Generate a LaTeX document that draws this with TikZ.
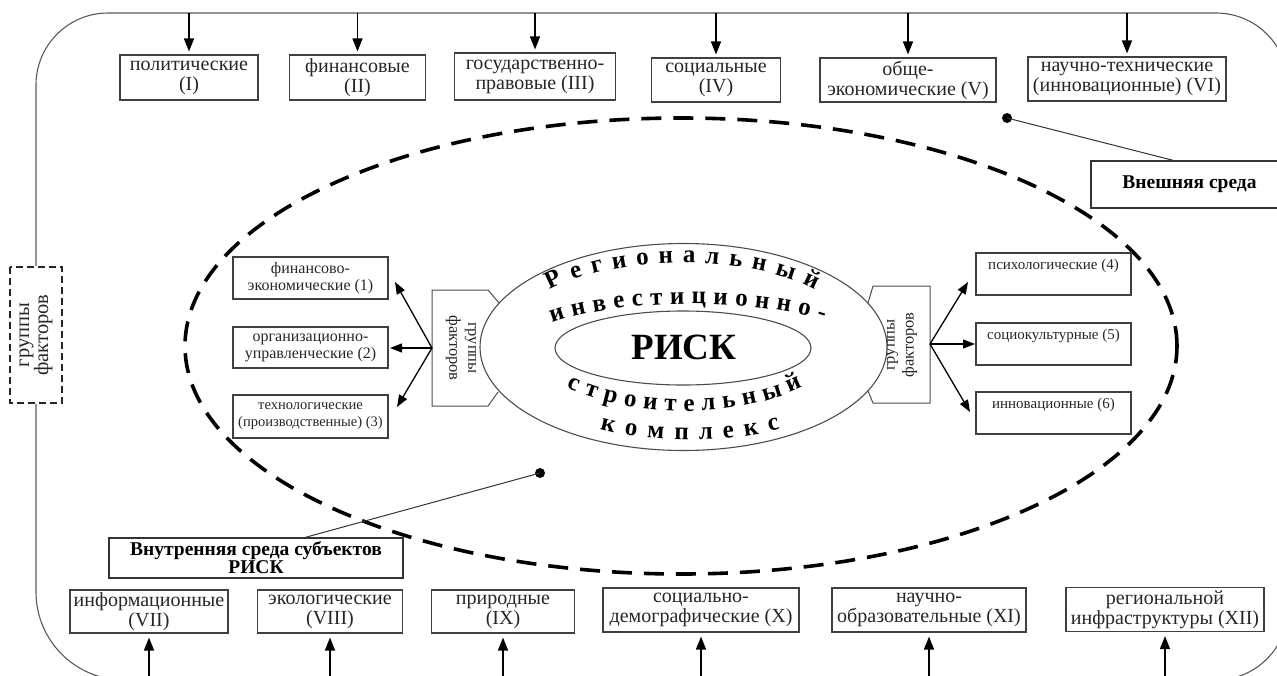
\documentclass[tikz,border=0pt]{standalone}
\usepackage{fontspec}
\setmainfont{Liberation Serif}
\usetikzlibrary{arrows.meta,decorations.text,calc}
\newcommand\fsz[2]{\fontsize{#1}{#2}\selectfont}
\newcommand\curvefont{\bfseries\fontsize{25}{25}\selectfont}
\begin{document}
\begin{tikzpicture}[x=1pt,y=-1pt,
  fbox/.style={draw=black!75, line width=1.1pt, inner sep=1pt, align=center, text=black!85, font=\fsz{20}{20}},
  sbox/.style={draw=black!75, line width=1.1pt, inner sep=1pt, align=center, text=black!85, font=\fsz{16}{17}},
  rbox/.style={draw=black!75, line width=1.1pt, inner sep=1pt, minimum width=155, minimum height=42},
  rtxt/.style={font=\fsz{15}{16}, text=black!85, inner sep=0pt},
  lbl/.style={draw=black!80, line width=1.1pt, inner sep=1pt, align=center, font=\bfseries\fsz{19.5}{18}},
  arr/.style={line width=1.4pt, -{Triangle[length=13pt,width=10pt]}},
  garr/.style={line width=1.3pt, -{Triangle[length=12pt,width=9pt]}},
  thinl/.style={line width=1pt, draw=black!80},
  grp/.style={draw=black!70, line width=1pt},
  gtxt/.style={font=\fsz{16.5}{19}, align=center, text=black!85, inner sep=0pt},
  dotn/.style={circle, fill=black, inner sep=0pt, minimum size=10},
]
\useasboundingbox (0,0) rectangle (1277,675);
\clip (0,0) rectangle (1277,675);

% left dashed box and outer frame
\node[draw=black!85, line width=1.8pt, dash pattern=on 7pt off 4pt, rotate=90,
      minimum width=136, minimum height=52, align=center, inner sep=0pt,
      font=\fsz{20.5}{19}, text=black!85] (gf) at (36,335) {группы\\факторов};
\draw[draw=black!65, line width=1.1pt] (gf.east) [rounded corners=72] -- (36,13) -- (1288,13) -- (1288,680) [rounded corners=88] -- (36,680) -- (gf.west);

\coordinate (ft) at (0,13);
\coordinate (fb) at (0,676);

% top boxes
\node[fbox, minimum width=138, minimum height=45] (b1) at (189,77.5) {политические\\(I)};
\node[fbox, minimum width=136, minimum height=45] (b2) at (357.5,77.5) {финансовые\\(II)};
\node[fbox, minimum width=161, minimum height=47] (b3) at (535,76.5) {государственно-\\правовые (III)};
\node[fbox, minimum width=129, minimum height=44] (b4) at (716,80) {социальные\\(IV)};
\node[fbox, minimum width=176, minimum height=44] (b5) at (908,80) {обще-\\экономические (V)};
\node[fbox, minimum width=198, minimum height=44] (b6) at (1127,79) {научно-технические\\(инновационные) (VI)};
\foreach \n in {b1,b2,b3,b4,b5,b6}{
  \draw[arr, shorten >=3pt] (\n.north |- ft) -- (\n.north);
}

% bottom boxes
\node[fbox, minimum width=158, minimum height=43] (b7) at (149,611.5) {информационные\\(VII)};
\node[fbox, minimum width=145, minimum height=43] (b8) at (330,611.5) {экологические\\(VIII)};
\node[fbox, minimum width=143, minimum height=43] (b9) at (503,611.5) {природные\\(IX)};
\node[fbox, minimum width=196, minimum height=44] (b10) at (701,610) {социально-\\демографические (X)};
\node[fbox, minimum width=194, minimum height=44] (b11) at (929,610) {научно-\\образовательные (XI)};
\node[fbox, minimum width=198, minimum height=44] (b12) at (1165,609.5) {региональной\\инфраструктуры (XII)};
\foreach \n in {b7,b8,b9,b10,b11,b12}{
  \draw[arr, shorten >=4pt] (\n.south |- fb) -- (\n.south);
}

% big dashed ellipse
\draw[line width=3.6pt, dash pattern=on 20pt off 12pt] (681,346) ellipse [x radius=496pt, y radius=228pt];

% central ellipses
\draw[draw=black!70, line width=1.1pt] (683.5,347) ellipse [x radius=203.5pt, y radius=103.5pt];
\draw[draw=black!70, line width=1.1pt] (683,348) ellipse [x radius=128pt, y radius=37pt];
\node[font=\bfseries\fsz{37}{37}, inner sep=0pt] (risk) at (684,347) {РИСК};

% curved texts
\path[decorate, decoration={text along path, text align={fit to path},
  text={|\curvefont|Региональный}}]
  (550,290) .. controls (617,254) and (748,254) .. (815,290);
\path[decorate, decoration={text along path, text align={fit to path},
  text={|\curvefont|инвестиционно-}}]
  (552,323) .. controls (620,298) and (755,298) .. (824,321);
\path[decorate, decoration={text along path, text align={fit to path},
  text={|\curvefont|строительный}}]
  (567,387) .. controls (635,419) and (735,419) .. (803,387);
\path[decorate, decoration={text along path, text align={fit to path},
  text={|\curvefont|комплекс}}]
  (600,429) .. controls (652,443) and (728,443) .. (780,429);

% left group box
\draw[grp] (499,303) -- (488,290) -- (432,290) -- (432,406) -- (488,406) -- (498,392);
\node[gtxt, rotate=-90] (lg) at (461,348) {группы\\факторов};
\coordinate (lgw) at (432,348);

% right group box
\draw[grp] (868,303) -- (873,286) -- (930,286) -- (930,403) -- (873,403) -- (868,391);
\node[gtxt, rotate=90] (rg) at (902,345) {группы\\факторов};
\coordinate (rge) at (930,344);

% left factor boxes
\node[sbox, minimum width=155, minimum height=42] (l1) at (310.5,278) {финансово-\\экономические (1)};
\node[sbox, minimum width=155, minimum height=41] (l2) at (310.5,347.5) {организационно-\\управленческие (2)};
\node[sbox, minimum width=155, minimum height=43, font=\fsz{14.5}{17}] (l3) at (310.5,416.5) {технологические\\(производственные) (3)};
\coordinate (t1) at (395,282);
\coordinate (t2) at (390,348);
\coordinate (t3) at (397,407);
\draw[garr] (lgw) -- (t1);
\draw[garr] (lgw) -- (t2);
\draw[garr] (lgw) -- (t3);

% right factor boxes
\node[rbox] (r4) at (1053.5,274) {};
\node[rbox] (r5) at (1053.5,344) {};
\node[rbox] (r6) at (1053.5,413) {};
\node[rtxt, anchor=north] (r4t) at ([yshift=-6pt]r4.north) {психологические (4)};
\node[rtxt, anchor=north] (r5t) at ([yshift=-6pt]r5.north) {социокультурные (5)};
\node[rtxt, anchor=north] (r6t) at ([yshift=-6pt]r6.north) {инновационные (6)};
\coordinate (s4) at (968,282);
\coordinate (s5) at (975,344);
\coordinate (s6) at (970,412);
\draw[garr] (rge) -- (s4);
\draw[garr] (rge) -- (s5);
\draw[garr] (rge) -- (s6);

% labels
\node[lbl, minimum width=197, minimum height=47] (ext) at (1189.5,184.5) {Внешняя среда};
\node[dotn] (d1) at (1007,118) {};
\draw[thinl] (d1.center) -- ([xshift=-16pt]ext.north);

\node[lbl, minimum width=294, minimum height=40] (int) at (256,558) {Внутренняя среда субъектов\\РИСК};
\node[dotn] (d2) at (540,473) {};
\draw[thinl] (d2.center) -- ([xshift=49pt]int.north);
\end{tikzpicture}
\end{document}
